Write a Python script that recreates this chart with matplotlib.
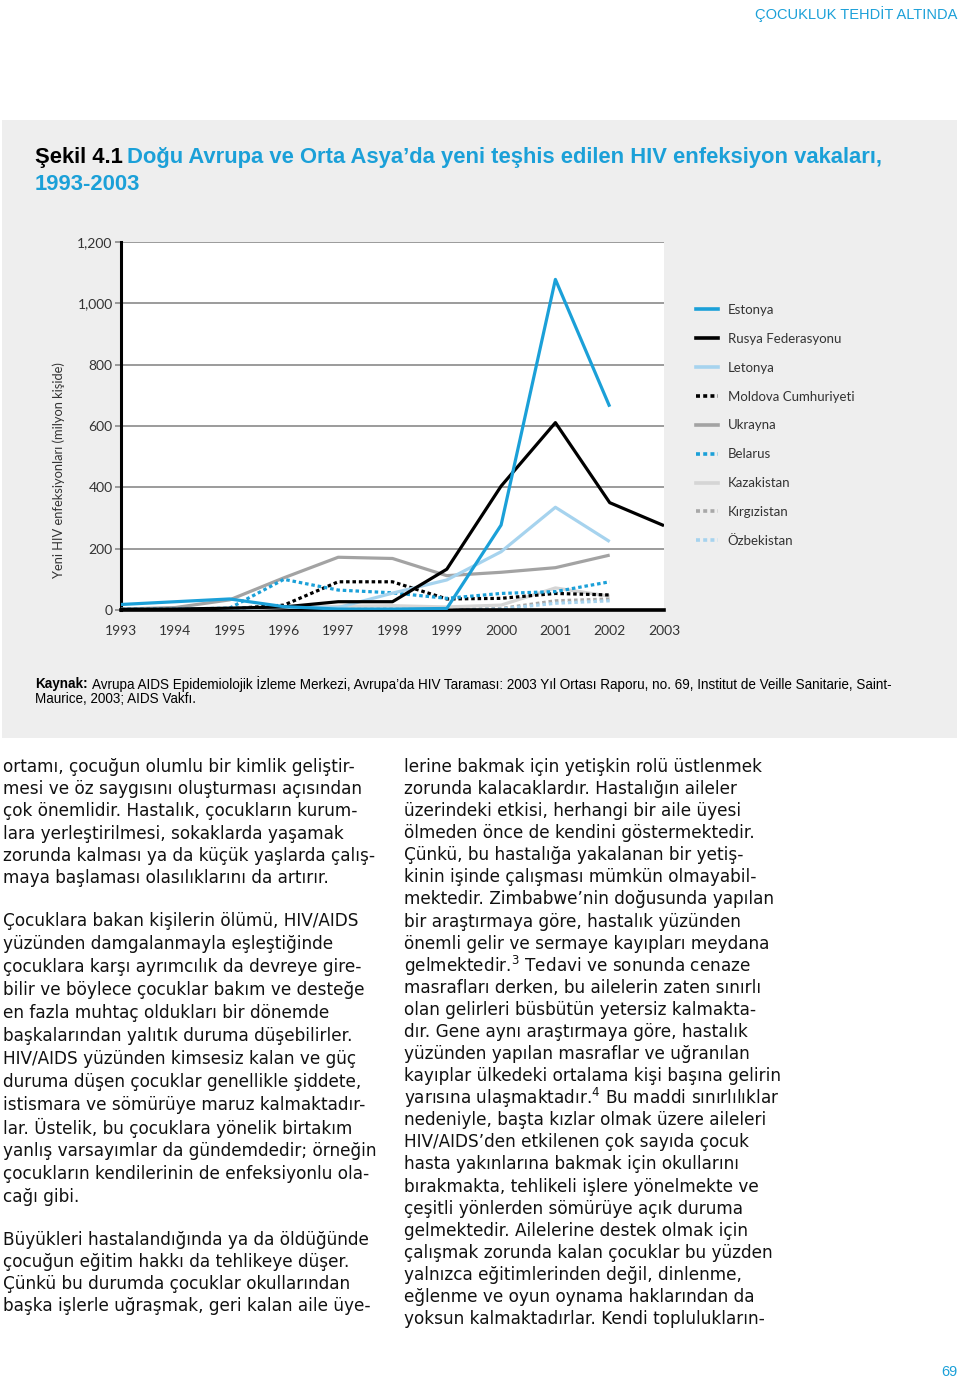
import matplotlib
matplotlib.use('Agg')
import matplotlib.pyplot as plt
import numpy as np
from matplotlib.patches import Rectangle
from matplotlib.lines import Line2D

nan = np.nan
years = list(range(1993, 2004))
countries = ['Estonya', 'Rusya Federasyonu', 'Letonya', 'Moldova Cumhuriyeti', 'Ukrayna',
             'Belarus', 'Kazakistan', 'Kırgızistan', 'Özbekistan']
estonia = [18, 27, 36, 11, 3, 3, 5, 277, 1078, 663, nan]
russia = [2, 3, 6, 10, 27, 27, 133, 404, 611, 350, 275]
latvia = [2, 3, 5, 10, 8, 55, 98, 190, 335, 223, nan]
moldova = [2, 3, 4, 16, 92, 92, 36, 38, 54, 49, nan]
ukraine = [3, 8, 33, 105, 172, 168, 112, 123, 138, 179, nan]
belarus = [2, 3, 6, 100, 65, 56, 38, 54, 60, 92, nan]
kazakhstan = [1, 2, 3, 8, 12, 14, 10, 16, 72, 45, nan]
kyrgyzstan = [1, 1, 1, 2, 3, 3, 1, 5, 30, 36, nan]
uzbekistan = [0, 0, 0, 0, 1, 1, 1, 3, 22, 30, nan]
series = [estonia, russia, latvia, moldova, ukraine, belarus, kazakhstan, kyrgyzstan, uzbekistan]
yticks = [0, 200, 400, 600, 800, 1000, 1200]

BLUE = '#1BA0D8'
LBLUE = '#A6D3EE'
colors = [BLUE, 'black', LBLUE, 'black', '#A3A3A3', BLUE, '#D5D5D5', '#A8A8A8', LBLUE]
dotted = (0, (1.1, 0.9))
styles = ['-', '-', '-', dotted, '-', dotted, '-', dotted, dotted]
zorders = [9, 8, 7, 6, 5, 6, 3, 2, 2]

W, H = 960, 1384
def fx(x):
    return x / W
def fy(y):
    return 1 - y / H

fig = plt.figure(figsize=(9.6, 13.84), dpi=100)
fig.patch.set_facecolor('white')
fig.patches.append(Rectangle((fx(2), fy(738)), 955 / W, 618 / H, transform=fig.transFigure,
                             facecolor='#EEEEEE', edgecolor='none', zorder=-5))

chart_font = ['Lato', 'DejaVu Sans']
body_font = ['DejaVu Sans']
title_font = ['Liberation Sans', 'DejaVu Sans']

# header / page number
fig.text(fx(957), fy(14), 'ÇOCUKLUK TEHDİT ALTINDA', color=BLUE, fontsize=10.5,
         family=title_font, ha='right', va='center')
fig.text(fx(957), fy(1372), '69', color=BLUE, fontsize=10.5, family=title_font,
         ha='right', va='center')

# title
renderer = fig.canvas.get_renderer()
t1 = fig.text(fx(35), fy(158), 'Şekil 4.1', color='black', fontsize=15.8, weight='bold',
              family=title_font, va='center', ha='left')
bb = t1.get_window_extent(renderer)
fig.text(bb.x1 / W + 4 / W, fy(158), 'Doğu Avrupa ve Orta Asya’da yeni teşhis edilen HIV enfeksiyon vakaları,',
         color=BLUE, fontsize=15.8, weight='bold', family=title_font, va='center', ha='left')
fig.text(fx(35), fy(184), '1993-2003', color=BLUE, fontsize=15.8, weight='bold',
         family=title_font, va='center', ha='left')

# chart
ax = fig.add_axes([fx(121), fy(610), 543 / W, 368 / H])
ax.set_facecolor('white')
for i, (name, vals) in enumerate(zip(countries, series)):
    ax.plot(years, vals, color=colors[i], linestyle=styles[i], linewidth=2.3,
            zorder=zorders[i], label=name, solid_capstyle='butt')
ax.set_xlim(1993, 2003)
ax.set_ylim(0, 1200)
ax.set_yticks(yticks)
ax.set_yticklabels(['{:,}'.format(v) for v in yticks])
ax.set_xticks(years)
ax.set_xticklabels([str(y) for y in years])
ax.yaxis.grid(True, color='#8A8A8A', linewidth=1.2)
ax.set_axisbelow(True)
for s in ['top', 'right']:
    ax.spines[s].set_visible(False)
ax.spines['left'].set_linewidth(2.2)
ax.spines['bottom'].set_linewidth(2.6)
ax.tick_params(axis='y', length=4, width=1.2, color='#8A8A8A', pad=2, labelsize=10)
ax.tick_params(axis='x', length=0, pad=11, labelsize=10)
for lab in ax.get_xticklabels() + ax.get_yticklabels():
    lab.set_family(chart_font)
    lab.set_color('#333333')
ax.set_ylabel('Yeni HIV enfeksiyonları (milyon kişide)', family=chart_font, fontsize=9.3,
              color='#333333')
ax.yaxis.label.set_position((0, 0.38))
ax.yaxis.labelpad = 9

handles = [Line2D([], [], color=colors[i], linestyle=styles[i], linewidth=2.6)
           for i in range(len(countries))]
leg = fig.legend(handles, countries, loc='upper left', bbox_to_anchor=(fx(684), fy(292)),
                 frameon=False, handlelength=1.7, handletextpad=0.7, labelspacing=1.28,
                 prop={'family': chart_font, 'size': 9.5})
for t in leg.get_texts():
    t.set_color('#333333')

# source
s1 = fig.text(fx(35), fy(684), 'Kaynak:', fontsize=9.75, weight='bold', family=title_font,
              va='center', ha='left')
bb = s1.get_window_extent(renderer)
fig.text(bb.x1 / W + 4 / W, fy(684),
         'Avrupa AIDS Epidemiolojik İzleme Merkezi, Avrupa’da HIV Taraması: 2003 Yıl Ortası Raporu, no. 69, Institut de Veille Sanitarie, Saint-',
         fontsize=9.75, family=title_font, va='center', ha='left')
fig.text(fx(35), fy(699), 'Maurice, 2003; AIDS Vakfı.', fontsize=9.75, family=title_font,
         va='center', ha='left')

# body text
left_paras = [
    (767, 22.2, ['ortamı, çocuğun olumlu bir kimlik geliştir-',
                 'mesi ve öz saygısını oluşturması açısından',
                 'çok önemlidir. Hastalık, çocukların kurum-',
                 'lara yerleştirilmesi, sokaklarda yaşamak',
                 'zorunda kalması ya da küçük yaşlarda çalış-',
                 'maya başlaması olasılıklarını da artırır.']),
    (921, 23.0, ['Çocuklara bakan kişilerin ölümü, HIV/AIDS',
                 'yüzünden damgalanmayla eşleştiğinde',
                 'çocuklara karşı ayrımcılık da devreye gire-',
                 'bilir ve böylece çocuklar bakım ve desteğe',
                 'en fazla muhtaç oldukları bir dönemde',
                 'başkalarından yalıtık duruma düşebilirler.',
                 'HIV/AIDS yüzünden kimsesiz kalan ve güç',
                 'duruma düşen çocuklar genellikle şiddete,',
                 'istismara ve sömürüye maruz kalmaktadır-',
                 'lar. Üstelik, bu çocuklara yönelik birtakım',
                 'yanlış varsayımlar da gündemdedir; örneğin',
                 'çocukların kendilerinin de enfeksiyonlu ola-',
                 'cağı gibi.']),
    (1240, 22.0, ['Büyükleri hastalandığında ya da öldüğünde',
                  'çocuğun eğitim hakkı da tehlikeye düşer.',
                  'Çünkü bu durumda çocuklar okullarından',
                  'başka işlerle uğraşmak, geri kalan aile üye-']),
]
right_lines = ['lerine bakmak için yetişkin rolü üstlenmek',
               'zorunda kalacaklardır. Hastalığın aileler',
               'üzerindeki etkisi, herhangi bir aile üyesi',
               'ölmeden önce de kendini göstermektedir.',
               'Çünkü, bu hastalığa yakalanan bir yetiş-',
               'kinin işinde çalışması mümkün olmayabil-',
               'mektedir. Zimbabwe’nin doğusunda yapılan',
               'bir araştırmaya göre, hastalık yüzünden',
               'önemli gelir ve sermaye kayıpları meydana',
               'gelmektedir.$^{3}$ Tedavi ve sonunda cenaze',
               'masrafları derken, bu ailelerin zaten sınırlı',
               'olan gelirleri büsbütün yetersiz kalmakta-',
               'dır. Gene aynı araştırmaya göre, hastalık',
               'yüzünden yapılan masraflar ve uğranılan',
               'kayıplar ülkedeki ortalama kişi başına gelirin',
               'yarısına ulaşmaktadır.$^{4}$ Bu maddi sınırlılıklar',
               'nedeniyle, başta kızlar olmak üzere aileleri',
               'HIV/AIDS’den etkilenen çok sayıda çocuk',
               'hasta yakınlarına bakmak için okullarını',
               'bırakmakta, tehlikeli işlere yönelmekte ve',
               'çeşitli yönlerden sömürüye açık duruma',
               'gelmektedir. Ailelerine destek olmak için',
               'çalışmak zorunda kalan çocuklar bu yüzden',
               'yalnızca eğitimlerinden değil, dinlenme,',
               'eğlenme ve oyun oynama haklarından da',
               'yoksun kalmaktadırlar. Kendi toplulukların-']

body_size = 12.15
for y0, step, lines in left_paras:
    for k, line in enumerate(lines):
        fig.text(fx(3), fy(y0 + k * step), line, fontsize=body_size, family=body_font,
                 va='center', ha='left', color='#111111')
for k, line in enumerate(right_lines):
    fig.text(fx(404), fy(767 + k * 22.08), line, fontsize=body_size, family=body_font,
             va='center', ha='left', color='#111111')

fig.savefig('out.png', dpi=100)
